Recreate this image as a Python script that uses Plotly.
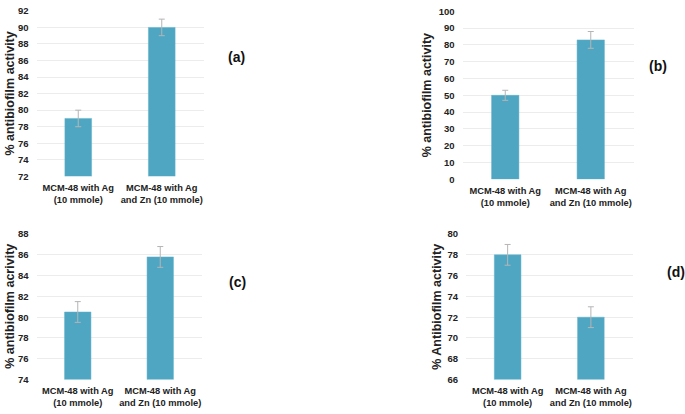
import plotly.graph_objects as go

W, H = 685, 414

categories = ["MCM-48 with Ag<br>(10 mmole)", "MCM-48 with Ag<br>and Zn (10 mmole)"]

values_a = [79, 90]
errors_a = [1, 1]
values_b = [50, 83]
errors_b = [3, 5]
values_c = [80.5, 85.8]
errors_c = [1, 1]
values_d = [78, 72]
errors_d = [1, 1]

ranges = {"a": [72, 92], "b": [0, 100], "c": [74, 88], "d": [66, 80]}
dticks = {"a": 2, "b": 10, "c": 2, "d": 2}
titles = {"a": "% antibiofilm activity", "b": "% antibiofilm activity",
          "c": "% antibiofilm acrivity", "d": "% Antibiofilm activity"}
labels = ["(a)", "(b)", "(c)", "(d)"]

BAR = "#4fa6c2"
FONT = "Liberation Sans, Arial, sans-serif"

# plot areas in pixels: (left, right, top, bottom)
areas = {
    "a": (36.5, 203.5, 5, 175),
    "b": (462.5, 633.5, 5.5, 178),
    "c": (36.5, 201.5, 234.3, 383.7),
    "d": (466, 632.5, 234.3, 383.7),
}

fig = go.Figure()
series = {"a": (values_a, errors_a), "b": (values_b, errors_b),
          "c": (values_c, errors_c), "d": (values_d, errors_d)}

layout = dict(width=W, height=H, margin=dict(l=0, r=0, t=0, b=0),
              paper_bgcolor="white", plot_bgcolor="white", showlegend=False,
              font=dict(family=FONT, color="#222222"))
annotations = []

title_x = {"a": 10, "b": 427, "c": 10, "d": 437}
label_pos = {"a": (236, 52), "b": (658, 62), "c": (237, 284), "d": (676, 273)}

for i, key in enumerate(["a", "b", "c", "d"]):
    n = "" if i == 0 else str(i + 1)
    vals, errs = series[key]
    l, r, t, b = areas[key]
    fig.add_trace(go.Bar(
        x=categories, y=vals, xaxis="x" + n, yaxis="y" + n,
        marker=dict(color=BAR, line=dict(color="#62b2cb", width=0.5)),
        width=0.32,
        error_y=dict(type="data", array=errs, visible=True,
                     color="#b5b5b5", thickness=1, width=3),
    ))
    layout["xaxis" + n] = dict(
        domain=[l / W, r / W], anchor="y" + n, showgrid=False,
        showline=False, ticks="", tickfont=dict(size=9.3, family=FONT, color="#222222", weight="bold"),
        ticklabelstandoff=4, fixedrange=True,
    )
    layout["yaxis" + n] = dict(
        domain=[1 - b / H, 1 - t / H], anchor="x" + n, range=ranges[key],
        dtick=dticks[key], tick0=0, showgrid=True, gridcolor="#ececec", gridwidth=1,
        zeroline=False, showline=False, ticks="",
        tickfont=dict(size=9.5, family=FONT, color="#222222", weight="bold"),
        ticklabelstandoff=7,
    )
    annotations.append(dict(
        text=titles[key], xref="paper", yref="paper",
        x=title_x[key] / W, y=1 - ((t + b) / 2) / H, textangle=-90,
        showarrow=False, xanchor="center", yanchor="middle",
        font=dict(size=12.5, family=FONT, color="#222222", weight="bold"),
    ))
    lx, ly = label_pos[key]
    annotations.append(dict(
        text=labels[i], xref="paper", yref="paper", x=lx / W, y=1 - ly / H,
        showarrow=False, xanchor="center", yanchor="middle",
        font=dict(size=14, family=FONT, color="#111111", weight="bold"),
    ))

layout["annotations"] = annotations
fig.update_layout(**layout)
fig.write_html("out.html", config={"displayModeBar": False},
               post_script="document.body.style.margin='0';document.body.style.overflow='hidden';")
